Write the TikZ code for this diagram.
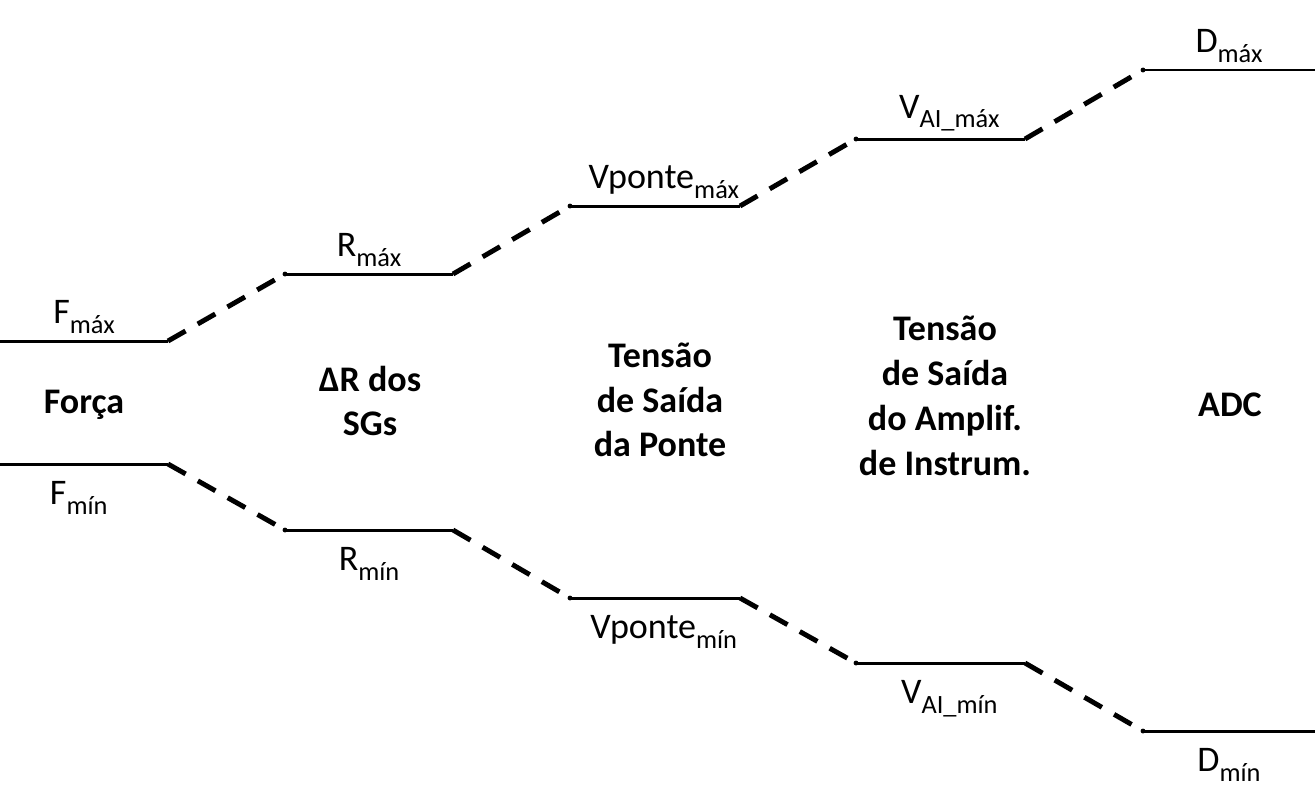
\documentclass[tikz,border=0pt]{standalone}
\usepackage{fontspec}
\setmainfont{Carlito}
\usetikzlibrary{positioning}
\newcommand{\lowtxt}[1]{\raisebox{-5.5pt}{\fontsize{15}{15}\selectfont #1}}

\begin{document}
\begin{tikzpicture}[x=0.02cm, y=-0.02cm]
    \tikzset{Level/.style={line width=1.7pt}};
    \tikzset{Link/.style={line width=2.8pt, dash pattern=on 11.5pt off 8pt}};
    \tikzset{Stage/.style={font=\fontsize{20.5}{25.5}\selectfont\bfseries, align=center}};
    \tikzset{Value/.style={font=\fontsize{20.5}{24}\selectfont, inner sep=2pt}};
    \tikzset{Dot/.style={circle, fill, inner sep=0pt, minimum size=2.8pt}};

    \useasboundingbox (0,0) rectangle (1315,802);

    % upper levels
    \coordinate (fa) at (0,341);   \coordinate (fb) at (168,341);
    \coordinate (ra) at (285,274); \coordinate (rb) at (453,274);
    \coordinate (va) at (570,206); \coordinate (vb) at (740,206);
    \coordinate (aa) at (856,139); \coordinate (ab) at (1025,139);
    \coordinate (da) at (1143,70); \coordinate (db) at (1315,70);
    % lower levels
    \coordinate (fc) at (0,464);   \coordinate (fd) at (168,464);
    \coordinate (rc) at (285,530); \coordinate (rd) at (453,530);
    \coordinate (vc) at (570,598); \coordinate (vd) at (740,598);
    \coordinate (ac) at (856,663); \coordinate (ad) at (1025,663);
    \coordinate (dc) at (1143,731); \coordinate (dd) at (1315,731);

    \node[Stage] (force) at (84,405) {Força};
    \node[Stage] (gauge) at (370,401) {ΔR dos\\SGs};
    \node[Stage] (bridge) at (660,400) {Tensão\\de Saída\\da Ponte};
    \node[Stage] (amp) at (945,396) {Tensão\\de Saída\\do Amplif.\\de Instrum.};
    \node[Stage] (adc) at (1230,405) {ADC};

    \draw[Level] (fa) -- (fb) node[Value, midway, above=1.5pt] {F\lowtxt{máx}};
    \draw[Level] (ra) -- (rb) node[Value, midway, above=1.5pt] {R\lowtxt{máx}};
    \draw[Level] (va) -- (vb) node[Value, midway, above=1.5pt, xshift=5] {Vponte\lowtxt{máx}};
    \draw[Level] (aa) -- (ab) node[Value, midway, above=1.5pt, xshift=5] {V\lowtxt{AI\_máx}};
    \draw[Level] (da) -- (db) node[Value, midway, above=1.5pt] {D\lowtxt{máx}};

    \draw[Level] (fc) -- (fd) node[Value, midway, below=7pt, xshift=-3] {F\lowtxt{mín}};
    \draw[Level] (rc) -- (rd) node[Value, midway, below=7pt] {R\lowtxt{mín}};
    \draw[Level] (vc) -- (vd) node[Value, midway, below=7pt, xshift=5] {Vponte\lowtxt{mín}};
    \draw[Level] (ac) -- (ad) node[Value, midway, below=7pt, xshift=5] {V\lowtxt{AI\_mín}};
    \draw[Level] (dc) -- (dd) node[Value, midway, below=7pt] {D\lowtxt{mín}};

    \draw[Link] (fb) -- (ra);
    \draw[Link] (rb) -- (va);
    \draw[Link] (vb) -- (aa);
    \draw[Link] (ab) -- (da);
    \draw[Link] (fd) -- (rc);
    \draw[Link] (rd) -- (vc);
    \draw[Link] (vd) -- (ac);
    \draw[Link] (ad) -- (dc);

    \node[Dot] at (ra) {};
    \node[Dot] at (va) {};
    \node[Dot] at (aa) {};
    \node[Dot] at (da) {};
    \node[Dot] at (rc) {};
    \node[Dot] at (vc) {};
    \node[Dot] at (ac) {};
    \node[Dot] at (dc) {};
\end{tikzpicture}
\end{document}
